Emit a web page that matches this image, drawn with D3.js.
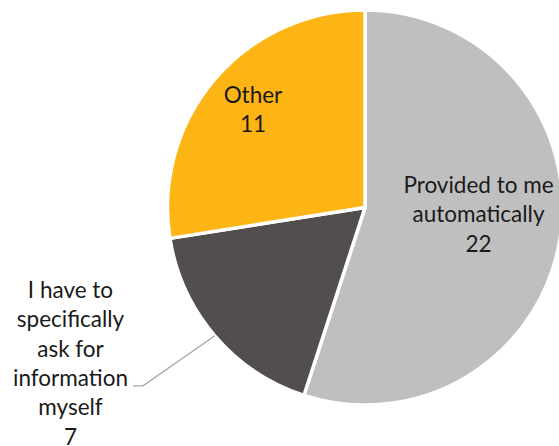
<!DOCTYPE html>
<html>
<head>
<meta charset="utf-8">
<script src="https://cdn.jsdelivr.net/npm/d3@7"></script>
<style>
  html, body { margin: 0; padding: 0; background: #ffffff; }
  svg { display: block; }
  text { font-family: Lato, "Open Sans", sans-serif; fill: #1a1a1a; }
</style>
</head>
<body>
<svg id="chart" width="559" height="446"></svg>
<script>
// Survey answers: how information reaches the respondent
const categories = ["Provided to me automatically", "I have to specifically ask for information myself", "Other"];
const values = [22, 7, 11];
const colors = ["#BFBFBF", "#524E4D", "#FDB515"];
// Label text, one entry per line
const labelLines = [
  ["Provided to me", "automatically"],
  ["I have to", "specifically", "ask for", "information", "myself"],
  ["Other"]
];

const width = 559, height = 446;
const cx = 365, cy = 207.5, radius = 197.5;

const svg = d3.select("#chart");
const g = svg.append("g").attr("transform", `translate(${cx},${cy})`);

const data = categories.map((c, i) => ({ category: c, value: values[i], color: colors[i], lines: labelLines[i] }));

const pie = d3.pie().value(d => d.value).sort(null);
const arcs = pie(data);
const arc = d3.arc().innerRadius(0).outerRadius(radius);

g.selectAll("path.slice")
  .data(arcs)
  .join("path")
  .attr("class", "slice")
  .attr("d", arc)
  .attr("fill", d => d.data.color)
  .attr("stroke", "#ffffff")
  .attr("stroke-width", 3.5)
  .attr("stroke-linejoin", "round");

const fontSize = 22.5;
const lineH = 29.3;

// Multi-line label: first baseline at y, value on the last line
function drawLabel(x, y, lines, value) {
  const t = svg.append("text")
    .attr("text-anchor", "middle")
    .attr("font-size", fontSize);
  lines.concat([String(value)]).forEach((s, i) => {
    t.append("tspan").attr("x", x).attr("y", y + i * lineH).text(s);
  });
}

// Label anchors (centre x, first baseline) for each slice
const labelPos = [[478.5, 193], [70.5, 298], [253, 103]];

arcs.forEach((a, i) => {
  drawLabel(labelPos[i][0], labelPos[i][1], a.data.lines, a.data.value);
});

// Leader line from the small slice's outer edge to its label
{
  const a = arcs[1];
  const edge = d3.arc().innerRadius(radius).outerRadius(radius).centroid(a);
  const elbowY = labelPos[1][1] + 3 * lineH;
  svg.append("polyline")
    .attr("points", `133,${elbowY} 143,${elbowY} ${cx + edge[0]},${cy + edge[1]}`)
    .attr("fill", "none")
    .attr("stroke", "#A6A6A6")
    .attr("stroke-width", 1.3);
}
</script>
</body>
</html>
